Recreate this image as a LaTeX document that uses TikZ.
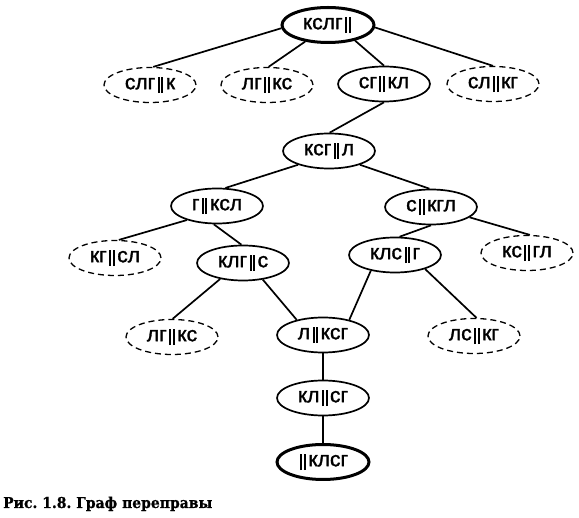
\documentclass[tikz,border=0pt]{standalone}
\usepackage{fontspec}
\setmainfont{Liberation Sans}
\newfontfamily\nodefont[FakeBold=1.5]{Liberation Sans}
\newfontfamily\capfont[FakeBold=0.8]{DejaVu Serif}
\usetikzlibrary{shapes.geometric}
\frenchspacing
\newcommand{\dbar}{\kern2.5pt\rule[-4pt]{2pt}{16.5pt}\kern1.5pt\rule[-4pt]{2pt}{16.5pt}\kern2.5pt}
\tikzset{
  st/.style={ellipse, draw, line width=1.7pt, minimum width=92pt, minimum height=35pt, inner sep=0pt, font=\nodefont\fontsize{21}{21}\selectfont},
  dsh/.style={st, line width=1.3pt, dash pattern=on 6pt off 4pt},
  thk/.style={st, line width=3pt},
  ln/.style={line width=1.7pt}
}
\begin{document}
\begin{tikzpicture}[x=1pt,y=-1pt]
\useasboundingbox (0,0) rectangle (579,518);
\node[thk] (A) at (328,25) {кслг\dbar};
\node[dsh] (B1) at (150,85) {слг\dbar к};
\node[dsh] (B2) at (267,85) {лг\dbar кс};
\node[st] (B3) at (384,84) {сг\dbar кл};
\node[dsh] (B4) at (493,84) {сл\dbar кг};
\node[st] (C) at (329,151) {ксг\dbar л};
\node[st] (D1) at (217,206) {г\dbar ксл};
\node[st] (D2) at (431,207) {с\dbar кгл};
\node[dsh] (E1) at (115,258) {кг\dbar сл};
\node[st] (E2) at (243,263) {клг\dbar с};
\node[st] (E3) at (395,255) {клс\dbar г};
\node[dsh] (E4) at (527,253) {кс\dbar гл};
\node[dsh] (F1) at (172,337) {лг\dbar кс};
\node[st] (F2) at (323,335) {л\dbar ксг};
\node[dsh] (F3) at (474,336) {лс\dbar кг};
\node[st] (G) at (323,398) {кл\dbar сг};
\node[thk] (H) at (323,462) {\dbar клсг};
\node[anchor=base west, inner sep=0pt, font=\capfont\bfseries\fontsize{15}{15}\selectfont] (cap) at (3,508) {\scalebox{0.93}[1]{Рис. 1.8. Граф переправы}};
\draw[ln] (A.184) -- (B1.80);
\draw[ln] (A.216) -- (B2.85);
\draw[ln] (A.-30) -- (B3.90);
\draw[ln] (A.-3) -- (B4.90);
\draw[ln] (B3.-90) -- (C.88);
\draw[ln] (C.204) -- (D1.65);
\draw[ln] (C.-24) -- (D2.95);
\draw[ln] (D1.205) -- (E1.78);
\draw[ln] (D1.-100) -- (E2.95);
\draw[ln] (D2.-90) -- (E3.76);
\draw[ln] (D2.-15) -- (E4.81);
\draw[ln] (E2.215) -- (F1.88);
\draw[ln] (E2.-40) -- (F2.150);
\draw[ln] (E3.213) -- (F2.30);
\draw[ln] (E3.-25) -- (F3.82);
\draw[ln] (F2) -- (G);
\draw[ln] (G) -- (H);
\end{tikzpicture}
\end{document}
